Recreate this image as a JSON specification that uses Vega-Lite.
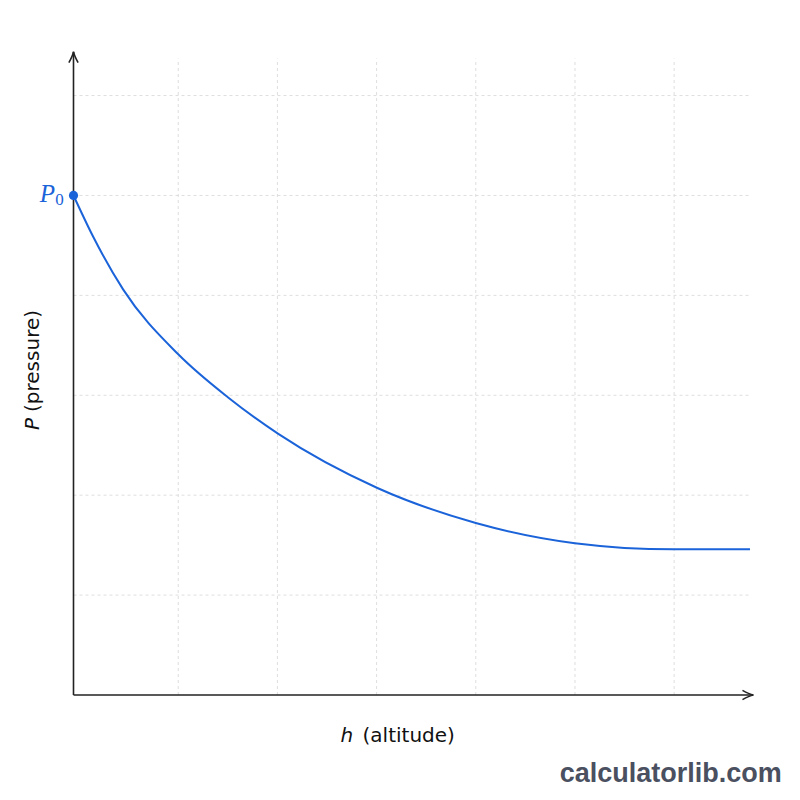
{
  "$schema": "https://vega.github.io/schema/vega-lite/v6.json",
  "width": 680,
  "height": 643.4,
  "autosize": "none",
  "padding": {"left": 73.5, "top": 51.6, "right": 46.5, "bottom": 105},
  "background": "white",
  "config": {"view": {"stroke": null}},
  "datasets": {
    "curve": [
      {"h": -0.056, "P": 5.0},
      {"h": 0.144, "P": 4.584},
      {"h": 0.444, "P": 4.06},
      {"h": 1.0, "P": 3.41},
      {"h": 1.5, "P": 2.98},
      {"h": 2.009, "P": 2.613},
      {"h": 3.008, "P": 2.072},
      {"h": 4.0, "P": 1.722},
      {"h": 4.999, "P": 1.52},
      {"h": 5.998, "P": 1.458},
      {"h": 6.765, "P": 1.458}
    ],
    "grid": [{"g": 1}, {"g": 2}, {"g": 3}, {"g": 4}, {"g": 5}, {"g": 6}],
    "one": [{}]
  },
  "layer": [
    {
      "data": {"name": "grid"},
      "mark": {"type": "rule", "stroke": "#dedede", "strokeWidth": 1, "strokeDash": [3, 3]},
      "encoding": {
        "x": {"field": "g", "type": "quantitative", "scale": {"domain": [-0.056, 6.8], "nice": false, "zero": false}, "axis": null},
        "y": {"datum": 0, "type": "quantitative", "scale": {"domain": [0, 6.44], "nice": false, "zero": false}, "axis": null},
        "y2": {"datum": 6.37}
      }
    },
    {
      "data": {"name": "grid"},
      "mark": {"type": "rule", "stroke": "#dedede", "strokeWidth": 1, "strokeDash": [3, 3]},
      "encoding": {
        "y": {"field": "g", "type": "quantitative", "axis": null},
        "x": {"datum": -0.056, "type": "quantitative", "axis": null},
        "x2": {"datum": 6.765}
      }
    },
    {
      "data": {"name": "one"},
      "mark": {"type": "rule", "stroke": "#222222", "strokeWidth": 1.6},
      "encoding": {
        "x": {"datum": -0.056, "type": "quantitative", "axis": null},
        "x2": {"datum": 6.795},
        "y": {"datum": 0, "type": "quantitative", "axis": null}
      }
    },
    {
      "data": {"name": "one"},
      "mark": {"type": "rule", "stroke": "#222222", "strokeWidth": 1.6},
      "encoding": {
        "x": {"datum": -0.056, "type": "quantitative", "axis": null},
        "y": {"datum": 0, "type": "quantitative", "axis": null},
        "y2": {"datum": 6.435}
      }
    },
    {
      "data": {"name": "one"},
      "mark": {"type": "point", "shape": "M -1 -0.42 Q -0.4 -0.08 0 0 Q -0.4 0.08 -1 0.42", "size": 484, "filled": false, "stroke": "#222222", "strokeWidth": 1.6, "opacity": 1},
      "encoding": {
        "x": {"datum": 6.8, "type": "quantitative", "axis": null},
        "y": {"datum": 0, "type": "quantitative", "axis": null}
      }
    },
    {
      "data": {"name": "one"},
      "mark": {"type": "point", "shape": "M -1 -0.42 Q -0.4 -0.08 0 0 Q -0.4 0.08 -1 0.42", "size": 484, "filled": false, "stroke": "#222222", "strokeWidth": 1.6, "opacity": 1, "angle": 270},
      "encoding": {
        "x": {"datum": -0.056, "type": "quantitative", "axis": null},
        "y": {"datum": 6.44, "type": "quantitative", "axis": null}
      }
    },
    {
      "data": {"name": "curve"},
      "mark": {"type": "line", "color": "#1b63d9", "strokeWidth": 2, "interpolate": "monotone"},
      "encoding": {
        "x": {"field": "h", "type": "quantitative", "axis": null},
        "y": {"field": "P", "type": "quantitative", "axis": null}
      }
    },
    {
      "data": {"name": "one"},
      "mark": {"type": "point", "filled": true, "size": 85, "color": "#1b63d9", "opacity": 1},
      "encoding": {
        "x": {"datum": -0.056, "type": "quantitative", "axis": null},
        "y": {"datum": 5.0, "type": "quantitative", "axis": null}
      }
    },
    {
      "data": {"name": "one"},
      "mark": {"type": "text", "text": "P", "font": "Liberation Serif", "fontStyle": "italic", "fontSize": 25, "color": "#1b63d9", "align": "left", "baseline": "alphabetic"},
      "encoding": {
        "x": {"datum": -0.397, "type": "quantitative", "axis": null},
        "y": {"datum": 4.938, "type": "quantitative", "axis": null}
      }
    },
    {
      "data": {"name": "one"},
      "mark": {"type": "text", "text": "0", "font": "Liberation Serif", "fontSize": 17, "color": "#1b63d9", "align": "left", "baseline": "alphabetic"},
      "encoding": {
        "x": {"datum": -0.241, "type": "quantitative", "axis": null},
        "y": {"datum": 4.905, "type": "quantitative", "axis": null}
      }
    },
    {
      "data": {"name": "one"},
      "mark": {"type": "text", "text": "h", "font": "DejaVu Sans", "fontStyle": "italic", "fontSize": 20, "color": "#111111", "align": "right", "baseline": "alphabetic"},
      "encoding": {
        "x": {"datum": 2.763, "type": "quantitative", "axis": null},
        "y": {"datum": -0.467, "type": "quantitative", "axis": null}
      }
    },
    {
      "data": {"name": "one"},
      "mark": {"type": "text", "text": "(altitude)", "font": "DejaVu Sans", "fontSize": 20, "color": "#111111", "align": "left", "baseline": "alphabetic"},
      "encoding": {
        "x": {"datum": 2.858, "type": "quantitative", "axis": null},
        "y": {"datum": -0.467, "type": "quantitative", "axis": null}
      }
    },
    {
      "data": {"name": "one"},
      "mark": {"type": "text", "text": "P", "font": "DejaVu Sans", "fontStyle": "italic", "fontSize": 20, "color": "#111111", "align": "left", "baseline": "alphabetic", "angle": 270},
      "encoding": {
        "x": {"datum": -0.4, "type": "quantitative", "axis": null},
        "y": {"datum": 2.653, "type": "quantitative", "axis": null}
      }
    },
    {
      "data": {"name": "one"},
      "mark": {"type": "text", "text": "(pressure)", "font": "DejaVu Sans", "fontSize": 20, "color": "#111111", "align": "left", "baseline": "alphabetic", "angle": 270},
      "encoding": {
        "x": {"datum": -0.4, "type": "quantitative", "axis": null},
        "y": {"datum": 2.833, "type": "quantitative", "axis": null}
      }
    },
    {
      "data": {"name": "one"},
      "mark": {"type": "text", "text": "calculatorlib.com", "font": "Liberation Sans", "fontWeight": "bold", "fontSize": 27, "color": "#4a5060", "align": "right", "baseline": "alphabetic"},
      "encoding": {
        "x": {"datum": 7.085, "type": "quantitative", "axis": null},
        "y": {"datum": -0.868, "type": "quantitative", "axis": null}
      }
    }
  ]
}
